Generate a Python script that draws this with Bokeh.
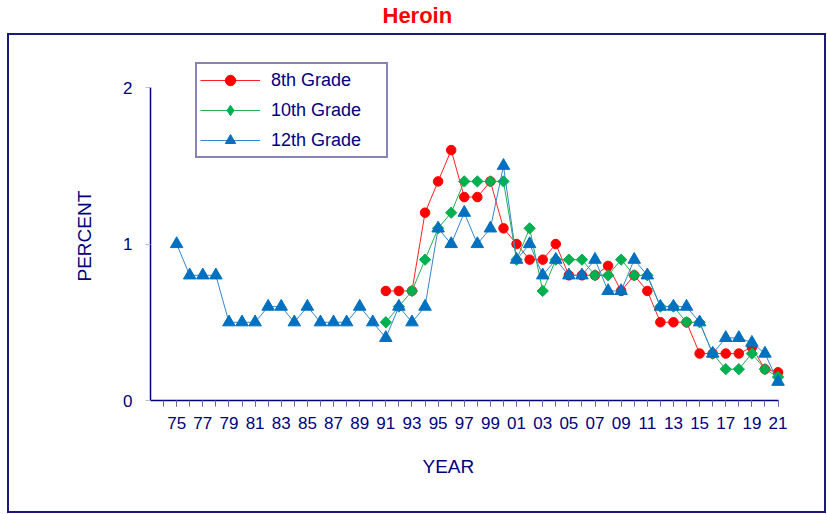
import numpy as np
from bokeh.plotting import figure
from bokeh.models import FixedTicker, Legend, LegendItem, Title, InlineStyleSheet
from bokeh.embed import file_html
from bokeh.resources import INLINE

# ---- data ----
years_12 = list(range(1975, 2022))
grade12 = [1.0, 0.8, 0.8, 0.8, 0.5, 0.5, 0.5, 0.6, 0.6, 0.5, 0.6, 0.5, 0.5, 0.5, 0.6, 0.5,
           0.4, 0.6, 0.5, 0.6, 1.1, 1.0, 1.2, 1.0, 1.1, 1.5,
           0.9, 1.0, 0.8, 0.9, 0.8, 0.8, 0.9, 0.7, 0.7, 0.9,
           0.8, 0.6, 0.6, 0.6, 0.5, 0.3, 0.4, 0.4, 0.37, 0.3, 0.12]
years_8_10 = list(range(1991, 2022))
grade8 = [0.7, 0.7, 0.7, 1.2, 1.4, 1.6, 1.3, 1.3, 1.4, 1.1,
          1.0, 0.9, 0.9, 1.0, 0.8, 0.8, 0.8, 0.86, 0.7, 0.8,
          0.7, 0.5, 0.5, 0.5, 0.3, 0.3, 0.3, 0.3, 0.34, 0.2, 0.18]
grade10 = [0.5, 0.6, 0.7, 0.9, 1.1, 1.2, 1.4, 1.4, 1.4, 1.4,
           0.9, 1.1, 0.7, 0.9, 0.9, 0.9, 0.8, 0.8, 0.9, 0.8,
           0.8, 0.6, 0.6, 0.5, 0.5, 0.3, 0.2, 0.2, 0.3, 0.2, 0.15]
tick_years = list(range(1975, 2022, 2))
tick_labels = ["75", "77", "79", "81", "83", "85", "87", "89", "91", "93", "95", "97", "99",
               "01", "03", "05", "07", "09", "11", "13", "15", "17", "19", "21"]
minor_years = list(range(1974, 2022))
y_ticks = [0, 1, 2]
series_names = ["8th Grade", "10th Grade", "12th Grade"]

NAVY = "#000080"
FONT = "Liberation Sans"
PAD = "\u00a0" * 8   # shifts the centred axis titles to where the reference has them

# layout (pixels)
W, H = 827, 514
FR_LEFT, FR_TOP, FR_BOTTOM = 150, 29, 400
PX_PER_UNIT = (400 - 87) / 2.0
y_top = (FR_BOTTOM - FR_TOP) / PX_PER_UNIT
x_end = 2021.8
px_per_year = (778 - 150) / 48.0
fr_right = FR_LEFT + (x_end - 1973) * px_per_year

p = figure(width=W, height=H, x_range=(1973, x_end), y_range=(0, y_top),
           output_backend="svg", toolbar_location=None,
           min_border_left=FR_LEFT, min_border_right=int(round(W - fr_right)),
           min_border_top=FR_TOP, min_border_bottom=H - FR_BOTTOM)
p.background_fill_color = "white"
p.border_fill_color = "white"
p.outline_line_color = None
p.xgrid.visible = False
p.ygrid.visible = False

p.title = Title(text="Heroin", align="left", vertical_align="top", text_color="#FF0000",
                text_font_size="22px", text_font_style="bold", text_font=FONT,
                offset=232, standoff=0)

# x axis
xa = p.xaxis[0]
xa.ticker = FixedTicker(ticks=tick_years, minor_ticks=minor_years)
xa.major_label_overrides = {y: l for y, l in zip(tick_years, tick_labels)}
xa.bounds = (1973, 2021)
xa.axis_line_color = NAVY
xa.axis_line_width = 1.5
xa.major_tick_in = 0
xa.major_tick_out = 6
xa.minor_tick_in = 0
xa.minor_tick_out = 6
xa.major_tick_line_color = "#6666AA"
xa.minor_tick_line_color = "#6666AA"
xa.major_label_text_font = FONT
xa.major_label_text_font_size = "17px"
xa.major_label_text_color = NAVY
xa.major_label_standoff = 10
xa.axis_label = "YEAR" + PAD
xa.axis_label_text_font = FONT
xa.axis_label_text_font_size = "19px"
xa.axis_label_text_font_style = "normal"
xa.axis_label_text_color = NAVY
xa.axis_label_standoff = 24

# y axis
ya = p.yaxis[0]
ya.ticker = FixedTicker(ticks=y_ticks, minor_ticks=[])
ya.bounds = (0, 2)
ya.axis_line_color = NAVY
ya.axis_line_width = 1.5
ya.major_tick_in = 0
ya.major_tick_out = 5
ya.major_tick_line_color = "#BBBBCC"
ya.minor_tick_line_color = None
ya.major_label_text_font = FONT
ya.major_label_text_font_size = "17px"
ya.major_label_text_color = NAVY
ya.major_label_standoff = 13
ya.axis_label = "PERCENT" + PAD
ya.axis_label_text_font = FONT
ya.axis_label_text_font_size = "19px"
ya.axis_label_text_font_style = "normal"
ya.axis_label_text_color = NAVY
ya.axis_label_standoff = 25

# series
l8 = p.line(years_8_10, grade8, line_color="#FF2020", line_width=1)
s8 = p.scatter(years_8_10, grade8, marker="circle", size=9.5, fill_color="#FF0000", line_color="#FF0000")
l10 = p.line(years_8_10, grade10, line_color="#20B050", line_width=1)
# diamond glyph (used for the legend key), hidden under the rotated squares in the plot
d10 = p.scatter(years_8_10, grade10, marker="diamond", size=9,
                fill_color="#00B050", line_color="#00B050")
s10 = p.scatter(years_8_10, grade10, marker="square", angle=np.pi / 4, size=8,
                fill_color="#00B050", line_color="#00B050")
l12 = p.line(years_12, grade12, line_color="#3585CC", line_width=1)
s12 = p.scatter(years_12, grade12, marker="triangle", size=12.5, fill_color="#0070C0", line_color="#0070C0")

legend = Legend(items=[LegendItem(label=series_names[0], renderers=[l8, s8]),
                       LegendItem(label=series_names[1], renderers=[l10, d10]),
                       LegendItem(label=series_names[2], renderers=[l12, s12])],
                location=(45, FR_BOTTOM - 158))
legend.border_line_color = "#0A0A70"
legend.border_line_width = 2.5
legend.background_fill_color = "white"
legend.background_fill_alpha = 1
legend.padding = 3
legend.spacing = 4
legend.margin = 0
legend.glyph_height = 26
legend.glyph_width = 60
legend.label_height = 26
legend.label_width = 112
legend.label_standoff = 11
legend.label_text_font = FONT
legend.label_text_font_size = "18px"
legend.label_text_color = NAVY
p.add_layout(legend)

# outer border of the chart area (drawn by CSS over the canvas)
p.stylesheets = [InlineStyleSheet(css="""
:host { position: relative; }
:host::after {
  content: "";
  position: absolute;
  left: 7px; top: 33px; width: 819px; height: 480px;
  border: 2.5px solid #1A1A7A;
  box-sizing: border-box;
  pointer-events: none;
  z-index: 50;
}
""")]

open("out.html", "w").write(file_html(p, INLINE))
